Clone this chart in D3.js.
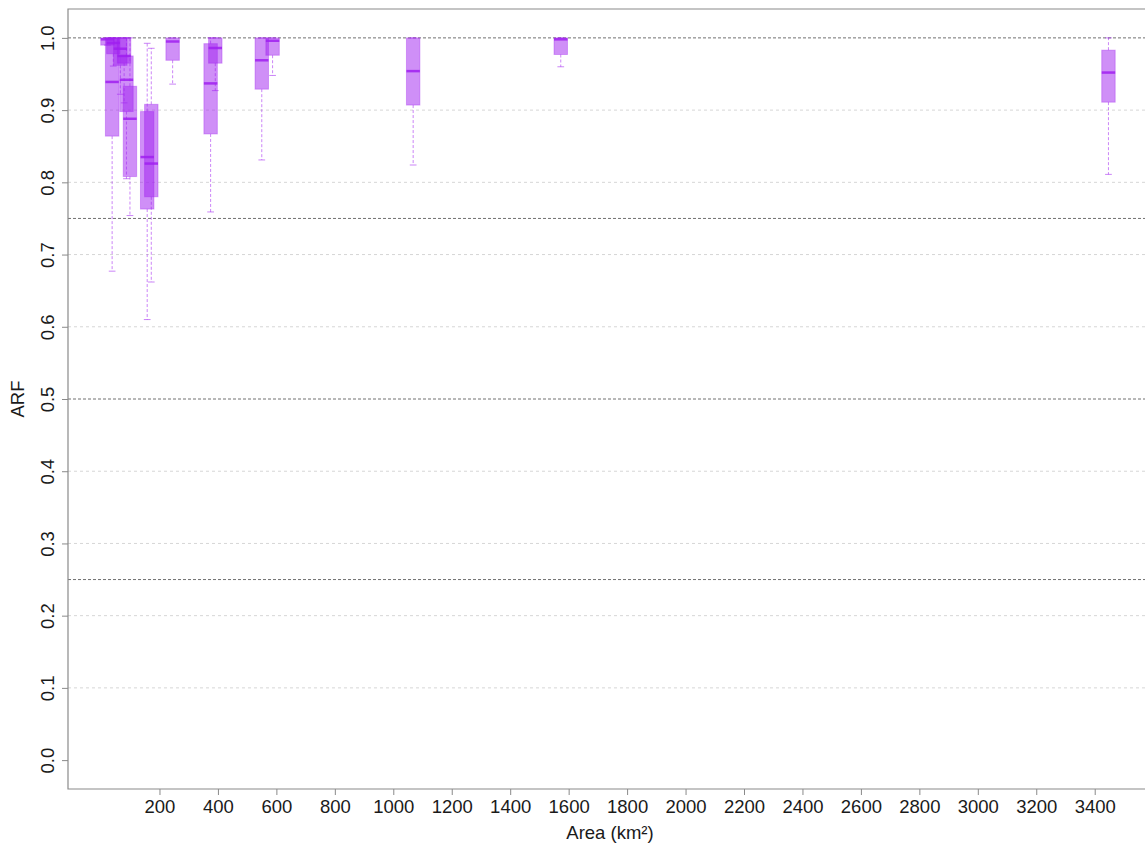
<!DOCTYPE html>
<html>
<head>
<meta charset="utf-8">
<script src="https://cdn.jsdelivr.net/npm/d3@7"></script>
<style>
  html, body { margin: 0; padding: 0; background: #fff; }
  svg { display: block; font-family: "Liberation Sans", Arial, sans-serif; }
</style>
</head>
<body>
<svg id="chart" width="1145" height="848"></svg>
<script>
// Catchment areas (km²) and ARF box statistics per catchment
const areas    = [22, 38, 42, 66, 79, 87, 99, 158, 172, 245, 375, 391, 550, 587, 1068, 1573, 3447];
const whiskLow = [0.990, 0.677, 0.961, 0.922, 0.910, 0.805, 0.754, 0.610, 0.662, 0.936, 0.759, 0.927, 0.831, 0.948, 0.824, 0.960, 0.811];
const q1       = [0.990, 0.864, 0.978, 0.962, 0.965, 0.898, 0.808, 0.763, 0.780, 0.969, 0.867, 0.965, 0.929, 0.976, 0.907, 0.977, 0.911];
const medians  = [0.998, 0.939, 0.993, 0.985, 0.975, 0.942, 0.888, 0.835, 0.826, 0.995, 0.937, 0.986, 0.969, 0.996, 0.954, 0.998, 0.952];
const q3       = [1.000, 1.000, 1.000, 1.000, 1.000, 0.975, 0.933, 0.898, 0.908, 1.000, 0.992, 1.000, 1.000, 1.000, 1.000, 1.000, 0.983];
const whiskHigh= [1.000, 1.000, 1.000, 1.000, 1.000, 1.000, 1.000, 0.9925, 0.9856, 1.000, 1.000, 1.000, 1.000, 1.000, 1.000, 1.000, 1.000];

const xTicks = [200, 400, 600, 800, 1000, 1200, 1400, 1600, 1800, 2000, 2200, 2400, 2600, 2800, 3000, 3200, 3400];
const yTicks = [0.0, 0.1, 0.2, 0.3, 0.4, 0.5, 0.6, 0.7, 0.8, 0.9, 1.0];
const lightGrid = [0.1, 0.2, 0.3, 0.4, 0.6, 0.7, 0.8, 0.9];
const refLines = [0.25, 0.5, 0.75, 1.0];

const boxWidthKm = 46;

const svg = d3.select("#chart");
const plotLeft = 68, plotTop = 9, plotBottom = 789, plotRight = 1152;
const fontStack = "Liberation Sans, Arial, sans-serif";

const x = d3.scaleLinear().domain([-113, 3596]).range([plotLeft, plotRight]);
const y = d3.scaleLinear().domain([-0.04, 1.04]).range([plotBottom, plotTop]);

const purple = "160,32,240";

// light grid
svg.append("g").selectAll("line").data(lightGrid).join("line")
  .attr("x1", plotLeft).attr("x2", plotRight)
  .attr("y1", d => y(d)).attr("y2", d => y(d))
  .attr("stroke", "#d6d6d6").attr("stroke-width", 1)
  .attr("stroke-dasharray", "3,3");

// reference lines
svg.append("g").selectAll("line").data(refLines).join("line")
  .attr("x1", plotLeft).attr("x2", plotRight)
  .attr("y1", d => y(d)).attr("y2", d => y(d))
  .attr("stroke", "#707070").attr("stroke-width", 1)
  .attr("stroke-dasharray", "3,2");

// boxplots
const rows = areas.map((a, i) => ({a, lo: whiskLow[i], q1: q1[i], med: medians[i], q3: q3[i], hi: whiskHigh[i]}));
const halfW = (x(boxWidthKm) - x(0)) / 2;
const g = svg.append("g");
rows.forEach(r => {
  const cx = x(r.a);
  const bg = g.append("g");
  // whiskers
  bg.append("line").attr("x1", cx).attr("x2", cx).attr("y1", y(r.q1)).attr("y2", y(r.lo))
    .attr("stroke", `rgba(${purple},0.55)`).attr("stroke-width", 1).attr("stroke-dasharray", "3,2");
  bg.append("line").attr("x1", cx).attr("x2", cx).attr("y1", y(r.q3)).attr("y2", y(r.hi))
    .attr("stroke", `rgba(${purple},0.55)`).attr("stroke-width", 1).attr("stroke-dasharray", "3,2");
  // caps
  [r.lo, r.hi].forEach(v => {
    bg.append("line").attr("x1", cx - halfW / 2).attr("x2", cx + halfW / 2)
      .attr("y1", y(v)).attr("y2", y(v))
      .attr("stroke", `rgba(${purple},0.55)`).attr("stroke-width", 1);
  });
  // box
  bg.append("rect").attr("x", cx - halfW).attr("width", 2 * halfW)
    .attr("y", y(r.q3)).attr("height", Math.max(1, y(r.q1) - y(r.q3)))
    .attr("fill", `rgba(${purple},0.5)`)
    .attr("stroke", `rgba(${purple},0.35)`).attr("stroke-width", 1);
  // median
  bg.append("line").attr("x1", cx - halfW).attr("x2", cx + halfW)
    .attr("y1", y(r.med)).attr("y2", y(r.med))
    .attr("stroke", `rgba(${purple},0.85)`).attr("stroke-width", 2.5);
});

// frame
svg.append("path")
  .attr("d", `M${plotRight},${plotTop}H${plotLeft}V${plotBottom}H${plotRight}`)
  .attr("fill", "none").attr("stroke", "#8a8a8a").attr("stroke-width", 1.2);

// x axis
const xAxis = svg.append("g").attr("transform", `translate(0,${plotBottom})`)
  .call(d3.axisBottom(x).tickValues(xTicks).tickSize(6).tickPadding(5).tickFormat(d3.format("d")));
xAxis.select(".domain").remove();
xAxis.selectAll(".tick line").attr("stroke", "#8a8a8a");
xAxis.selectAll(".tick text").attr("font-size", 18.5).attr("fill", "#1a1a1a")
  .attr("font-family", fontStack);

// y axis
const yAxis = svg.append("g").attr("transform", `translate(${plotLeft},0)`)
  .call(d3.axisLeft(y).tickValues(yTicks).tickSize(6).tickFormat(d3.format(".1f")));
yAxis.select(".domain").remove();
yAxis.selectAll(".tick line").attr("stroke", "#8a8a8a");
yAxis.selectAll(".tick text")
  .attr("font-size", 18.5).attr("fill", "#1a1a1a")
  .attr("font-family", fontStack)
  .attr("text-anchor", "middle").attr("dy", null).attr("x", null)
  .attr("transform", "translate(-21,0) rotate(-90)")
  .attr("dominant-baseline", "central");

// axis titles
svg.append("text").attr("x", (plotLeft + plotRight) / 2).attr("y", 839)
  .attr("text-anchor", "middle").attr("font-size", 18.5).attr("fill", "#1a1a1a")
  .attr("font-family", fontStack)
  .text("Area (km²)");
svg.append("text").attr("transform", `translate(24,${(plotTop + plotBottom) / 2}) rotate(-90)`)
  .attr("text-anchor", "middle").attr("font-size", 18.5).attr("fill", "#1a1a1a")
  .attr("font-family", fontStack)
  .text("ARF");
</script>
</body>
</html>
